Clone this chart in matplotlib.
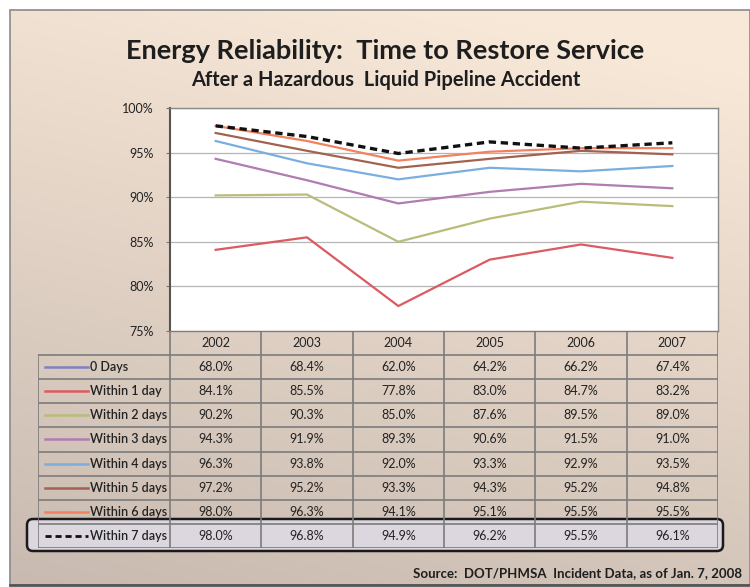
import numpy as np
import matplotlib.pyplot as plt
from matplotlib.patches import FancyBboxPatch, Rectangle
from matplotlib.ticker import PercentFormatter

plt.rcParams['font.family'] = ['Lato', 'DejaVu Sans']

years = [2002, 2003, 2004, 2005, 2006, 2007]
labels = ['0 Days', 'Within 1 day', 'Within 2 days', 'Within 3 days',
          'Within 4 days', 'Within 5 days', 'Within 6 days', 'Within 7 days']
d0 = [68.0, 68.4, 62.0, 64.2, 66.2, 67.4]
d1 = [84.1, 85.5, 77.8, 83.0, 84.7, 83.2]
d2 = [90.2, 90.3, 85.0, 87.6, 89.5, 89.0]
d3 = [94.3, 91.9, 89.3, 90.6, 91.5, 91.0]
d4 = [96.3, 93.8, 92.0, 93.3, 92.9, 93.5]
d5 = [97.2, 95.2, 93.3, 94.3, 95.2, 94.8]
d6 = [98.0, 96.3, 94.1, 95.1, 95.5, 95.5]
d7 = [98.0, 96.8, 94.9, 96.2, 95.5, 96.1]
series = [d0, d1, d2, d3, d4, d5, d6, d7]

colors = ['#7d80c2', '#dc5a62', '#b9bc7a', '#b07cb2', '#7aaee0',
          '#a3624f', '#f2825f', '#111111']
styles = ['-'] * 7 + ['--']

W, H = 750, 587


def px(x0, y0, x1, y1):
    # pixel box (top-left origin) -> figure fraction rect
    return [x0 / W, 1 - y1 / H, (x1 - x0) / W, (y1 - y0) / H]


fig = plt.figure(figsize=(7.5, 5.87), dpi=100)

# background slide with gradient
bg = fig.add_axes([0, 0, 1, 1])
bg.set_xlim(0, W)
bg.set_ylim(H, 0)
bg.axis('off')
gy, gx = np.mgrid[0:1:200j, 0:1:200j]
t = np.clip(0.85 * gy + 0.25 * (1 - gx) - 0.1, 0, 1)
top = np.array([248, 232, 216]) / 255
bot = np.array([200, 186, 176]) / 255
img = top[None, None, :] * (1 - t[..., None]) + bot[None, None, :] * t[..., None]
bg.imshow(img, extent=(10, W, 585, 10), aspect='auto', zorder=0)
bg.add_patch(Rectangle((10, 10), W - 10, 575, fill=False, ec='#8a8a8a', lw=1.2, zorder=1))
bg.plot([10, W], [585, 585], color='#555555', lw=2, zorder=1)

# highlight around 7 days row
bg.add_patch(FancyBboxPatch((27, 519), 696, 32, boxstyle='round,pad=0,rounding_size=6',
                            fc='#dcd7df', ec='#1a1a1a', lw=1.8, zorder=2))

fig.text(385 / W, 1 - 51 / H, 'Energy Reliability:  Time to Restore Service',
         ha='center', va='center', fontsize=19.5, fontweight='bold', color='#1e1e1e')
fig.text(386 / W, 1 - 80 / H, 'After a Hazardous  Liquid Pipeline Accident',
         ha='center', va='center', fontsize=14.5, fontweight='bold', color='#1e1e1e')
fig.text(742 / W, 1 - 573 / H, 'Source:  DOT/PHMSA  Incident Data, as of Jan. 7, 2008',
         ha='right', va='center', fontsize=9.5, fontweight='bold', color='#1e1e1e')

# line chart
ax = fig.add_axes(px(170, 108, 718, 331))
ax.set_facecolor('white')
for vals, c, ls in zip(series, colors, styles):
    lw = 2.4 if ls == '--' else 1.6
    ax.plot(years, vals, color=c, ls=ls, lw=lw, dashes=(2.2, 1.4) if ls == '--' else (None, None))
ax.set_xlim(2001.5, 2007.5)
ax.set_ylim(75, 100)
ax.set_yticks([75, 80, 85, 90, 95, 100])
ax.yaxis.set_major_formatter(PercentFormatter(decimals=0))
ax.set_xticks([])
ax.grid(axis='y', color='#b5b5b5', lw=0.9)
ax.tick_params(axis='y', length=3, width=0.8, color='#777777', labelsize=9, pad=9, labelcolor='#222222')
for s in ax.spines.values():
    s.set_color('#8a8a8a')
    s.set_linewidth(1.0)
ax.spines['left'].set_color('#555555')
ax.spines['left'].set_linewidth(1.5)

# data table below
colw = (718 - 170) / 6
xl = 2001.5 - (170 - 38) / colw
tb = fig.add_axes(px(38, 331, 718, 548))
tb.set_xlim(xl, 2007.5)
tb.set_ylim(9, 0)
tb.axis('off')
tb.patch.set_alpha(0)
gc = '#7c7c7c'
for k in range(7):
    tb.plot([2001.5 + k] * 2, [0, 9], color=gc, lw=1.2)
tb.plot([xl, xl], [1, 9], color=gc, lw=1.2)
tb.plot([2001.5, 2007.5], [0, 0], color=gc, lw=1.2)
for r in range(1, 10):
    tb.plot([xl, 2007.5], [r, r], color=gc, lw=1.2)
for j, y in enumerate(years):
    tb.text(y, 0.5, str(y), ha='center', va='center', fontsize=9, color='#222222')
for i, (lab, vals, c, ls) in enumerate(zip(labels, series, colors, styles)):
    r = i + 1.5
    h0 = xl + 7 / colw
    h1 = xl + 50 / colw
    if ls == '--':
        tb.plot([h0, h1], [r, r], color=c, lw=2.0, dashes=(2.2, 1.4))
    else:
        tb.plot([h0, h1], [r, r], color=c, lw=1.8)
    tb.text(xl + 52 / colw, r, lab, ha='left', va='center', fontsize=9,
            fontweight='semibold', color='#222222')
    for y, v in zip(years, vals):
        tb.text(y, r, f'{v:.1f}%', ha='center', va='center', fontsize=9, color='#222222')

fig.savefig('out.png', dpi=100)
